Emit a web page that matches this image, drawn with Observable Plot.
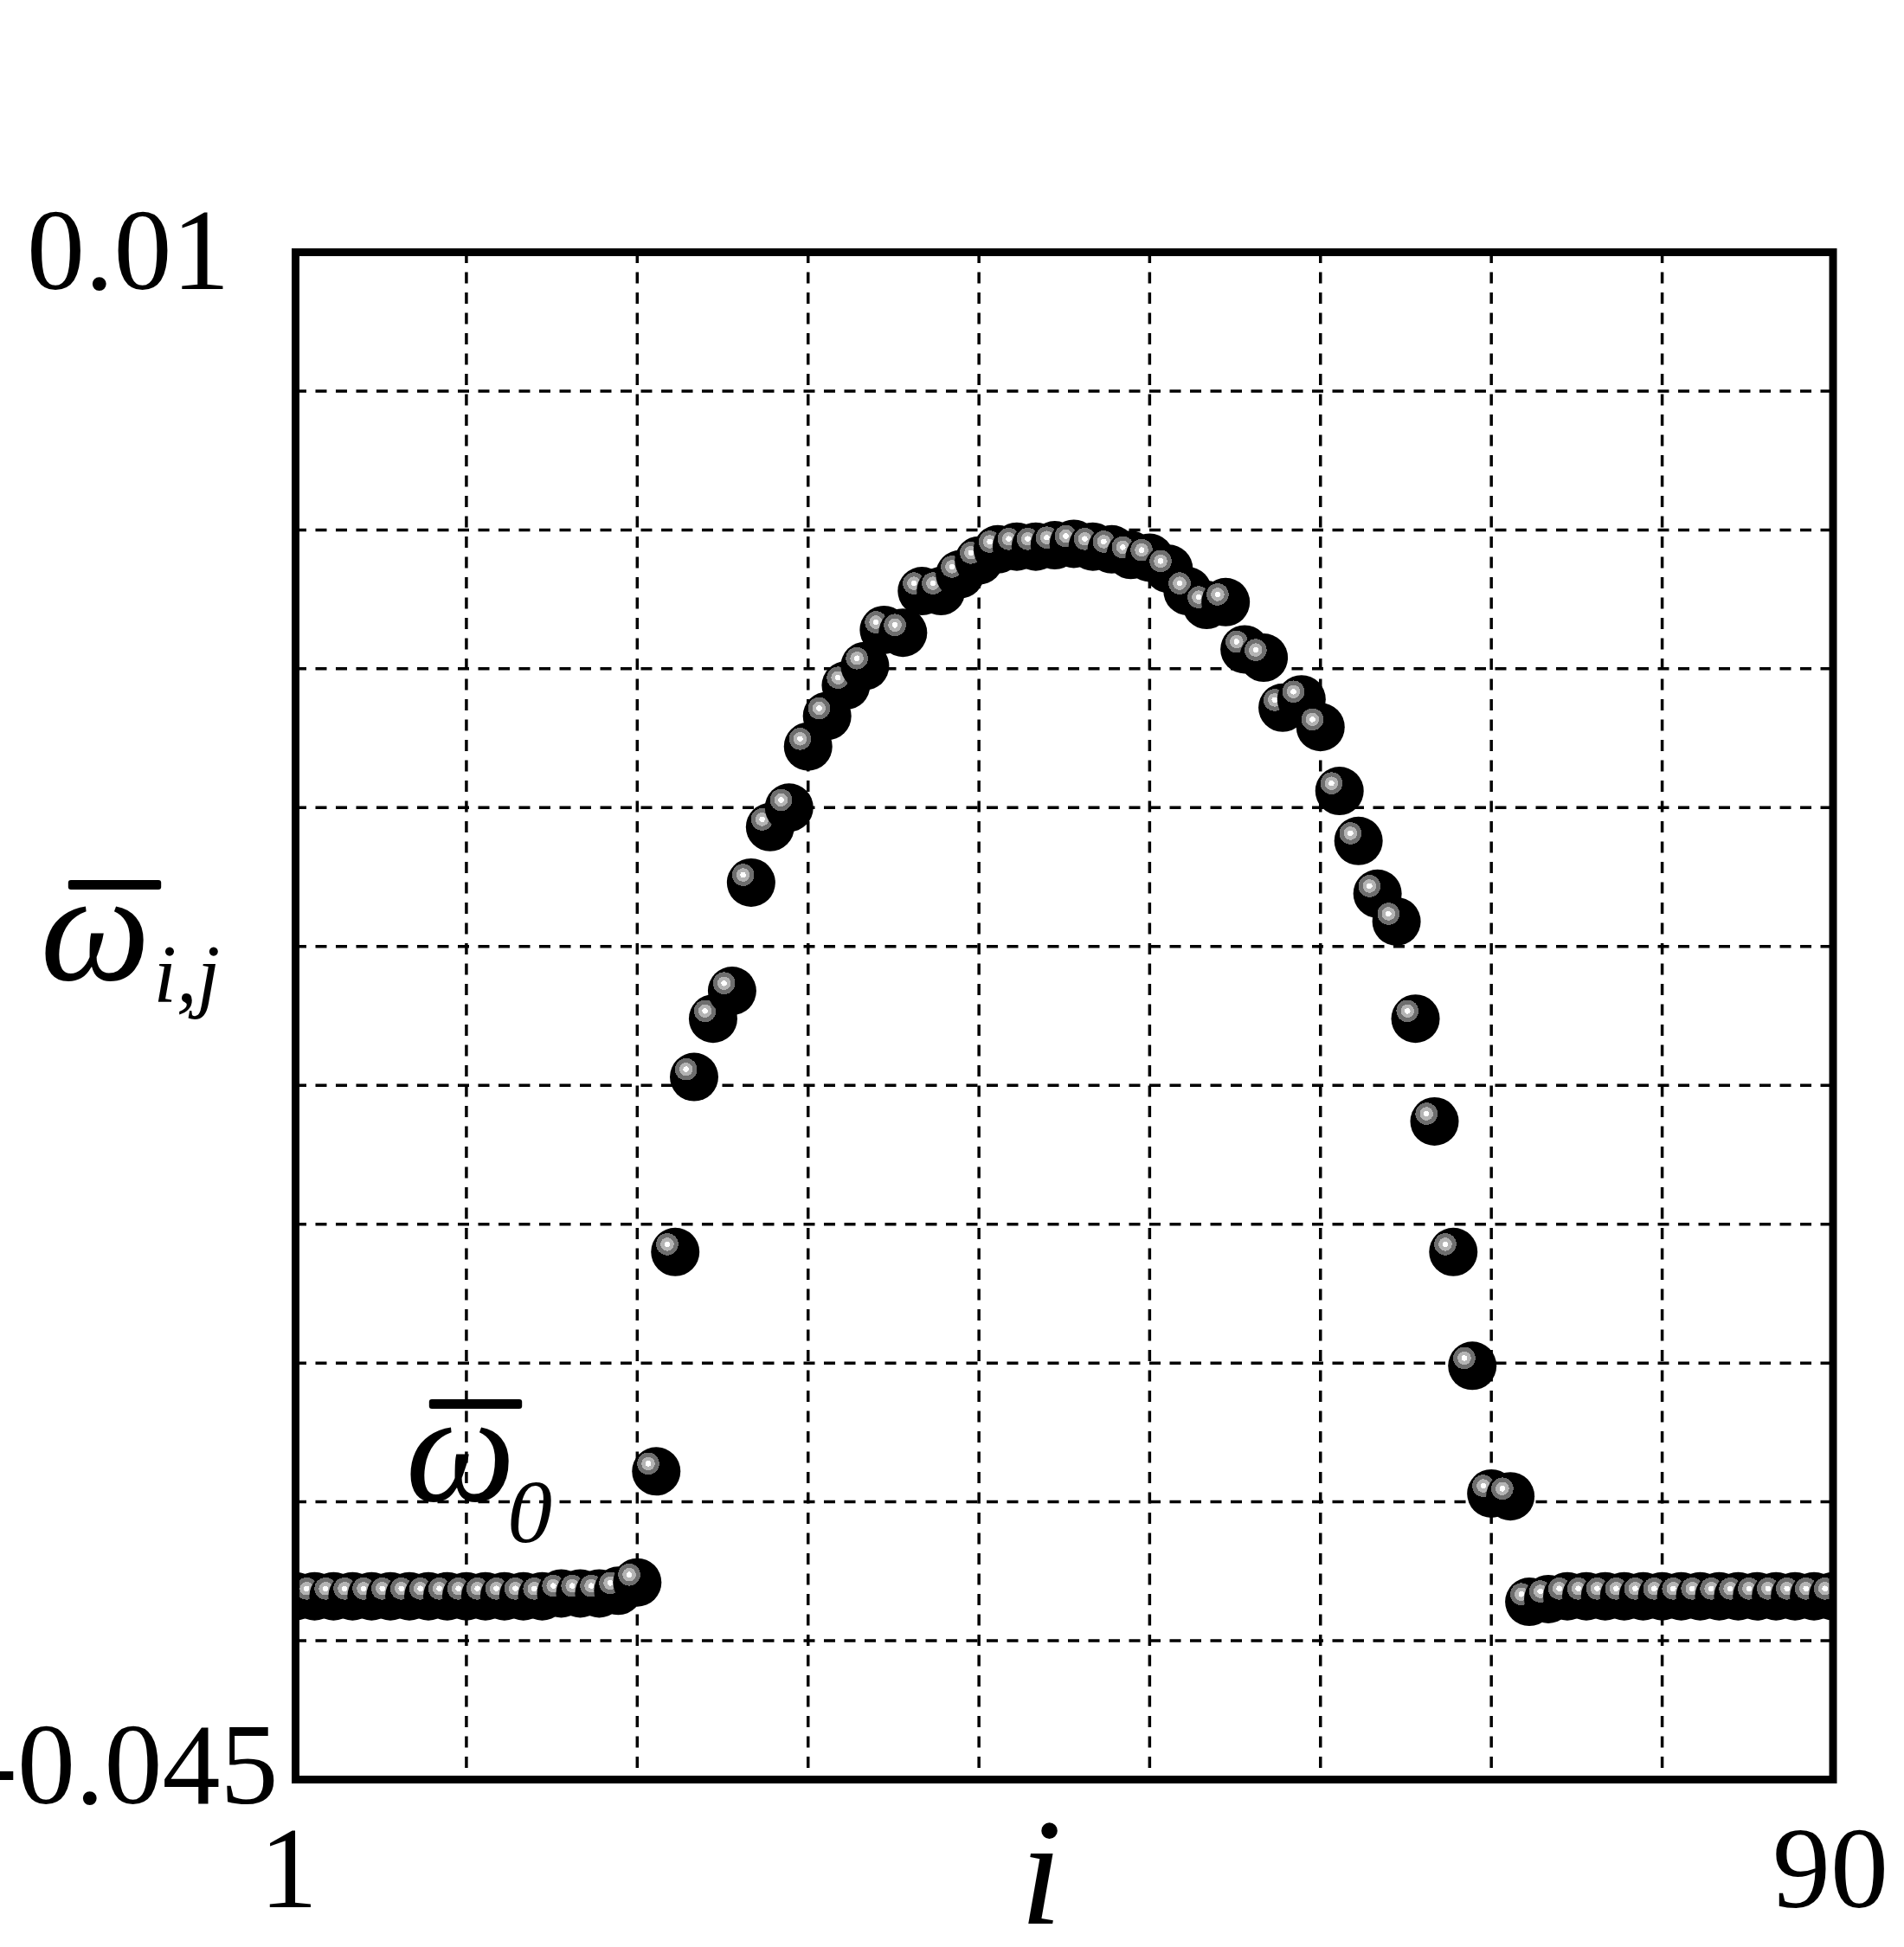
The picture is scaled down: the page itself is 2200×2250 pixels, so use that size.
<!DOCTYPE html>
<html>
<head>
<meta charset="utf-8">
<script src="https://cdn.jsdelivr.net/npm/d3@7"></script>
<script src="https://cdn.jsdelivr.net/npm/@observablehq/plot@0.6"></script>
<style>
  html, body { margin: 0; padding: 0; background: #ffffff; }
  #chart svg { display: block; }
</style>
</head>
<body>
<div id="chart"></div>
<script>
// ---- data ----
const iValues = [
  1.00, 2.10, 3.20, 4.30, 5.40, 6.49, 7.59, 8.69, 9.79, 10.89,
  11.99, 13.09, 14.19, 15.28, 16.38, 17.48, 18.58, 19.68, 20.78, 21.88,
  22.98, 24.07, 25.17, 26.27, 27.37, 28.47, 29.57, 30.67, 31.77, 32.86,
  33.96, 35.06, 36.16, 37.26, 38.36, 39.46, 40.56, 41.65, 42.75, 43.85,
  44.95, 46.05, 47.15, 48.25, 49.35, 50.44, 51.54, 52.64, 53.74, 54.84,
  55.94, 57.04, 58.14, 59.23, 60.33, 61.43, 62.53, 63.63, 64.73, 65.83,
  66.93, 68.02, 69.12, 70.22, 71.32, 72.42, 73.52, 74.62, 75.72, 76.81,
  77.91, 79.01, 80.11, 81.21, 82.31, 83.41, 84.51, 85.60, 86.70, 87.80,
  88.90, 90.00
];
const omegaValues = [
  -0.0384, -0.0384, -0.0384, -0.0384, -0.0384, -0.0384, -0.0384, -0.0384, -0.0384, -0.0384,
  -0.0384, -0.0384, -0.0384, -0.0384, -0.0383, -0.0383, -0.0383, -0.0382, -0.0379, -0.0339,
  -0.0260, -0.0197, -0.0176, -0.0166, -0.0127, -0.0107, -0.0100, -0.0078, -0.0067, -0.0056,
  -0.0049, -0.0036, -0.0037, -0.0022, -0.0022, -0.0016, -0.0011, -0.0007, -0.0006, -0.0006,
  -0.00055, -0.0005, -0.0006, -0.0007, -0.0009, -0.0010, -0.0014, -0.0022, -0.0027, -0.0026,
  -0.0043, -0.0046, -0.0064, -0.0061, -0.0071, -0.0094, -0.0112, -0.0131, -0.0141, -0.0176,
  -0.0213, -0.0260, -0.0301, -0.0347, -0.0348, -0.0386, -0.0385, -0.0384, -0.0384, -0.0384,
  -0.0384, -0.0384, -0.0384, -0.0384, -0.0384, -0.0384, -0.0384, -0.0384, -0.0384, -0.0384,
  -0.0384, -0.0384
];
const xTickValues = [1, 90];
const xTickLabels = ["1", "90"];
const yTickValues = [0.01, -0.045];
const yTickLabels = ["0.01", "-0.045"];
const gridI = [10.89, 20.78, 30.67, 40.56, 50.44, 60.33, 70.22, 80.11];
const gridOmega = [0.005, 0, -0.005, -0.01, -0.015, -0.02, -0.025, -0.03, -0.035, -0.04];
const xLabel = "i";
const yLabelSymbol = "ω";
const yLabelSub = "i,j";
const baseSymbol = "ω";
const baseSub = "0";
const overbar = "—";

// ---- chart ----
const points = iValues.map((i, k) => ({ i, omega: omegaValues[k] }));
const serif = "'Liberation Serif', 'Times New Roman', serif";
const fmtY = d => yTickLabels[yTickValues.indexOf(d)];
const fmtX = d => xTickLabels[xTickValues.indexOf(d)];
const gridStyle = { stroke: "black", strokeOpacity: 1, strokeWidth: 3.5, strokeDasharray: "13,10.5" };

const chart = Plot.plot({
  width: 2200,
  height: 2250,
  marginLeft: 341,
  marginRight: 82.5,
  marginTop: 291,
  marginBottom: 194,
  x: { domain: [1, 90], label: null, axis: null },
  y: { domain: [-0.045, 0.01], label: null, axis: null },
  style: { fontFamily: serif, background: "white", color: "black" },
  marks: [
    Plot.gridX(gridI, gridStyle),
    Plot.gridY(gridOmega, gridStyle),
    Plot.dot(points, { x: "i", y: "omega", r: 28, fill: "url(#sphereGrad)", stroke: "none", clip: true }),
    Plot.frame({ stroke: "black", strokeWidth: 9 }),
    Plot.axisY([yTickValues[0]], { anchor: "left", tickSize: 0, tickPadding: 76, fontSize: 134, tickFormat: fmtY, label: null }),
    Plot.axisY([yTickValues[1]], { anchor: "left", tickSize: 0, tickPadding: 20, dy: -15, fontSize: 134, tickFormat: fmtY, label: null }),
    Plot.axisX([xTickValues[0]], { anchor: "bottom", tickSize: 0, tickPadding: 52, dx: -8, fontSize: 134, tickFormat: fmtX, label: null }),
    Plot.axisX([xTickValues[1]], { anchor: "bottom", tickSize: 0, tickPadding: 52, dx: -3, fontSize: 134, tickFormat: fmtX, label: null }),
    // x label
    Plot.text([xLabel], { text: d => d, frameAnchor: "bottom", lineAnchor: "bottom", dx: -27, dy: 166, fontSize: 175, fontStyle: "italic" }),
    // y label: omega-bar with subscript i,j
    Plot.text([yLabelSymbol], { text: d => d, frameAnchor: "left", textAnchor: "start", lineAnchor: "bottom", dx: -295, dy: -42.5, fontSize: 180, fontStyle: "italic" }),
    Plot.text([yLabelSub], { text: d => d, frameAnchor: "left", textAnchor: "start", lineAnchor: "bottom", dx: -164, dy: -16.5, fontSize: 95, fontStyle: "italic" }),
    Plot.text([overbar], { text: d => d, frameAnchor: "left", textAnchor: "start", lineAnchor: "bottom", dx: -259, dy: -128.5, fontSize: 100, stroke: "black", strokeWidth: 6 }),
    // annotation: omega-bar_0
    Plot.text([baseSymbol], { text: d => d, frameAnchor: "bottom-left", textAnchor: "start", lineAnchor: "bottom", dx: 127, dy: -323, fontSize: 180, fontStyle: "italic" }),
    Plot.text([baseSub], { text: d => d, frameAnchor: "bottom-left", textAnchor: "start", lineAnchor: "bottom", dx: 245, dy: -275, fontSize: 103, fontStyle: "italic" }),
    Plot.text([overbar], { text: d => d, frameAnchor: "bottom-left", textAnchor: "start", lineAnchor: "bottom", dx: 158, dy: -411, fontSize: 100, stroke: "black", strokeWidth: 6 })
  ]
});

// shaded-sphere fill for the dots
const ns = "http://www.w3.org/2000/svg";
const defs = document.createElementNS(ns, "defs");
const grad = document.createElementNS(ns, "radialGradient");
grad.setAttribute("id", "sphereGrad");
grad.setAttribute("cx", "0.334");
grad.setAttribute("cy", "0.341");
grad.setAttribute("fx", "0.334");
grad.setAttribute("fy", "0.341");
grad.setAttribute("r", "0.5");
[[0, "#ffffff"], [0.118, "#ffffff"], [0.118, "#b4b4b4"], [0.275, "#b4b4b4"],
 [0.275, "#6e6e6e"], [0.457, "#6e6e6e"], [0.457, "#000000"], [1, "#000000"]].forEach(([o, c]) => {
  const s = document.createElementNS(ns, "stop");
  s.setAttribute("offset", o);
  s.setAttribute("stop-color", c);
  grad.appendChild(s);
});
defs.appendChild(grad);
chart.insertBefore(defs, chart.firstChild);

document.getElementById("chart").appendChild(chart);
</script>
</body>
</html>
